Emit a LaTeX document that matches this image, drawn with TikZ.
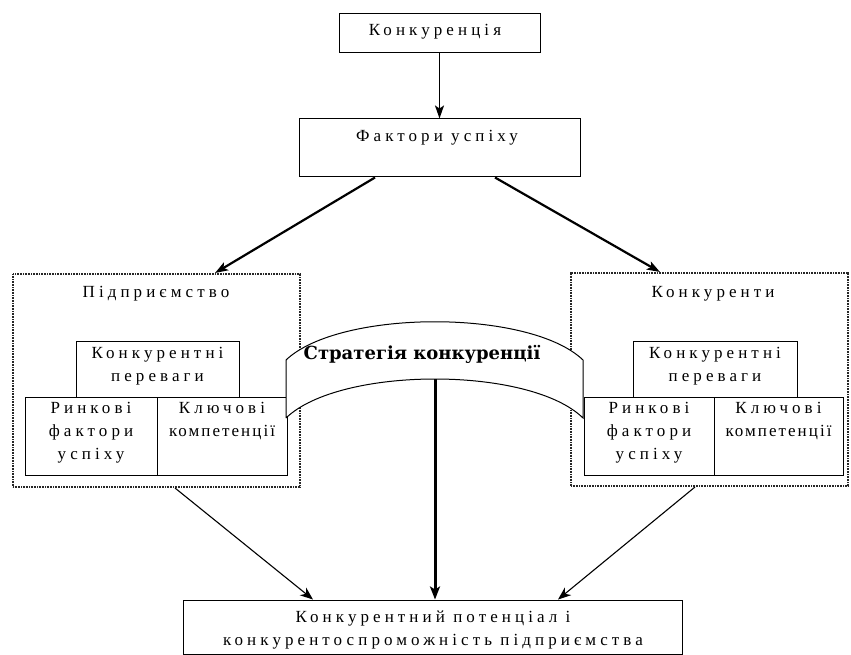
\documentclass[tikz,border=0pt]{standalone}
\usepackage{fontspec}
\setmainfont{Liberation Serif}
\newfontfamily\spcfont[LetterSpace=24]{Liberation Serif}
\newfontfamily\spcnarrow[LetterSpace=12]{Liberation Serif}
\newfontfamily\banfont{DejaVu Serif}
\usetikzlibrary{arrows.meta,calc}
\begin{document}
\begin{tikzpicture}[x=1pt,y=-1pt,
  box/.style={draw, line width=1pt, inner sep=0pt},
  dotbox/.style={draw=black!85, line width=2pt, dash pattern=on 1pt off 0.6pt, inner sep=0pt},
  txt/.style={font=\spcfont\fontsize{17}{22.8}\selectfont, align=center, inner sep=0pt},
  thickarr/.style={line width=2.2pt, -{Stealth[length=13pt,width=9pt,inset=3pt]}},
  thinarr/.style={line width=1.1pt, -{Stealth[length=13pt,width=10pt,inset=4pt]}}
]
\useasboundingbox (0,0) rectangle (851,655);
% top boxes
\node[box, minimum width=201pt, minimum height=39pt] (konk) at (439.5,33) {};
\node[txt] (konkT) at (435,32) {Конкуренція};
\node[box, minimum width=281pt, minimum height=58pt] (fact) at (439.5,148) {};
\node[txt] (factT) at (437,138) {Фактори успіху};
% dotted group boxes
\node[dotbox, minimum width=287pt, minimum height=213pt] (ent) at (156.5,380.5) {};
\node[txt] (entT) at (156,294) {Підприємство};
\node[dotbox, minimum width=277pt, minimum height=213pt] (comp) at (709.5,379.5) {};
\node[txt] (compT) at (713,294) {Конкуренти};
% inner boxes left
\node[box, minimum width=163pt, minimum height=56pt] (adv1) at (157.5,369) {};
\node[txt, anchor=north] (adv1T) at ([yshift=-7pt]adv1.north) {Конкурентні\\переваги};
\node[box, minimum width=132pt, minimum height=78pt] (mkt1) at (91,436) {};
\node[txt, anchor=north] (mkt1T) at ([yshift=-6pt]mkt1.north) {Ринкові\\фактори\\успіху};
\node[box, minimum width=130pt, minimum height=78pt] (key1) at (222,436) {};
\node[txt, anchor=north] (key1T) at ([yshift=-6pt]key1.north) {Ключові\\{\spcnarrow компетенції}};
% inner boxes right
\node[box, minimum width=164pt, minimum height=56pt] (adv2) at (715,369) {};
\node[txt, anchor=north] (adv2T) at ([yshift=-7pt]adv2.north) {Конкурентні\\переваги};
\node[box, minimum width=130pt, minimum height=78pt] (mkt2) at (649,436) {};
\node[txt, anchor=north] (mkt2T) at ([yshift=-6pt]mkt2.north) {Ринкові\\фактори\\успіху};
\node[box, minimum width=129pt, minimum height=78pt] (key2) at (778.5,436) {};
\node[txt, anchor=north] (key2T) at ([yshift=-6pt]key2.north) {Ключові\\{\spcnarrow компетенції}};
% bottom box
\node[box, minimum width=499pt, minimum height=54pt] (pot) at (432.5,627) {};
\node[txt] (potT) at (433,630) {Конкурентний потенціал і\\конкурентоспроможність підприємства};
% banner
\draw[line width=1pt, fill=white] (286,418) -- (286,360) .. controls (340,309) and (530,309) .. (583,360) -- (583,418) .. controls (530,366) and (340,366) .. (286,418);
\coordinate (banbot) at (435,379);
\node[font=\banfont\bfseries\fontsize{18}{20}\selectfont, inner sep=0pt] (banT) at (422,354) {Стратегія конкуренції};
% arrows
\draw[line width=1.8pt, -{Stealth[length=13pt,width=9pt,inset=3pt]}] (konk.south) -- (konk.south |- fact.north);
\draw[thickarr] ([xshift=-64.5pt]fact.south) -- ([xshift=58.5pt]ent.north);
\draw[thickarr] ([xshift=55.5pt]fact.south) -- ([xshift=-49.5pt]comp.north);
\draw[thinarr] ([xshift=18.5pt]ent.south) -- ([xshift=-119.5pt]pot.north);
\draw[thinarr] ([xshift=-14.5pt]comp.south) -- ([xshift=125.5pt]pot.north);
\draw[line width=3pt, -{Stealth[length=13pt,width=10pt,inset=3pt]}] (banbot) -- (banbot |- pot.north);
\end{tikzpicture}
\end{document}
